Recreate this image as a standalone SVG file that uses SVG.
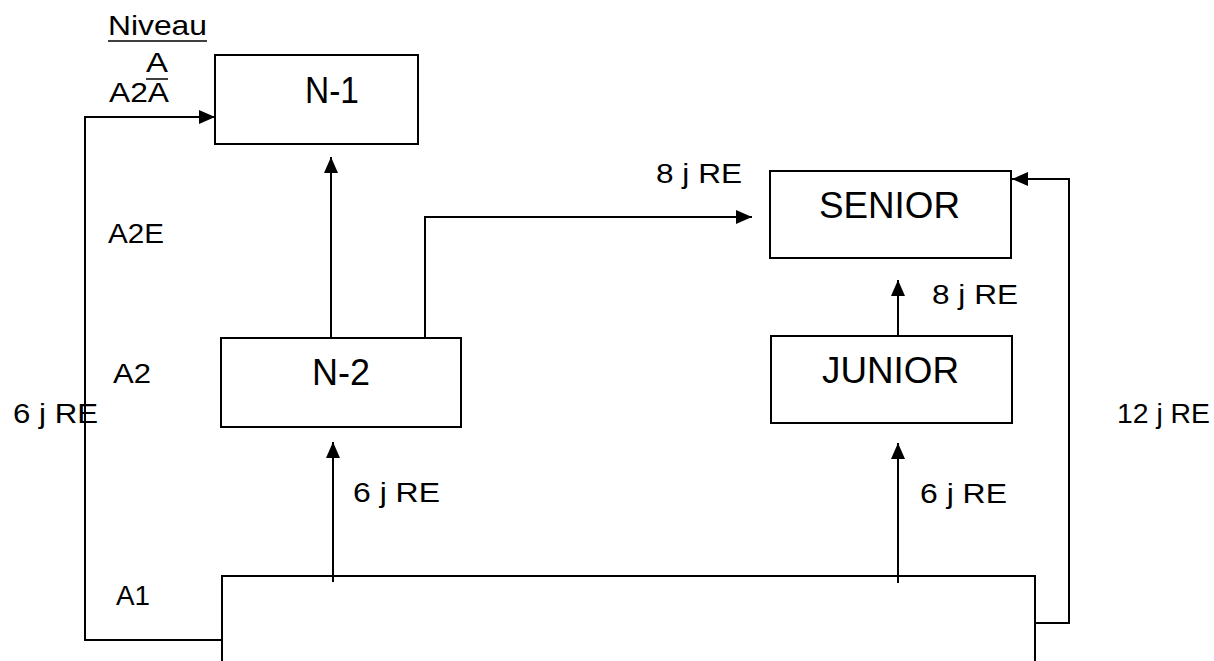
<svg xmlns="http://www.w3.org/2000/svg" width="1214" height="661" viewBox="0 0 1214 661">
<style>
.box{fill:none;stroke:#000;stroke-width:2}
.con{fill:none;stroke:#000;stroke-width:2}
.nt{font-family:"Liberation Sans",Arial,sans-serif;font-size:37px;fill:#000}
.lb{font-family:"Liberation Sans",Arial,sans-serif;font-size:28px;fill:#000}
</style>
<defs>
<marker id="ah" viewBox="0 0 16 14" refX="16" refY="7" markerWidth="16" markerHeight="14" markerUnits="userSpaceOnUse" orient="auto">
<path d="M0,0 L16,7 L0,14 z" fill="#000"/>
</marker>
</defs>
<rect width="1214" height="661" fill="#fff"/>
<g id="labels">
<text class="lb" x="108" y="35" textLength="99" lengthAdjust="spacingAndGlyphs">Niveau</text>
<line x1="108" y1="41" x2="207" y2="41" stroke="#000" stroke-width="1.5"/>
<text class="lb" x="146" y="72" textLength="22" lengthAdjust="spacingAndGlyphs" font-size="26">A</text>
<text class="lb" x="109" y="102" textLength="60" lengthAdjust="spacingAndGlyphs">A2A</text>
<line x1="146" y1="79" x2="168" y2="79" stroke="#000" stroke-width="1.5"/>
<text class="lb" x="108" y="243" textLength="56" lengthAdjust="spacingAndGlyphs">A2E</text>
<text class="lb" x="113" y="383" textLength="38" lengthAdjust="spacingAndGlyphs">A2</text>
<text class="lb" x="13" y="423" textLength="85" lengthAdjust="spacingAndGlyphs">6 j RE</text>
<text class="lb" x="116" y="605" textLength="34" lengthAdjust="spacingAndGlyphs">A1</text>
<text class="lb" x="1117" y="423" textLength="93" lengthAdjust="spacingAndGlyphs">12 j RE</text>
<text class="lb" x="656" y="183" textLength="86" lengthAdjust="spacingAndGlyphs">8 j RE</text>
<text class="lb" x="932" y="304" textLength="86" lengthAdjust="spacingAndGlyphs">8 j RE</text>
<text class="lb" x="353" y="502" textLength="87" lengthAdjust="spacingAndGlyphs">6 j RE</text>
<text class="lb" x="920" y="503" textLength="87" lengthAdjust="spacingAndGlyphs">6 j RE</text>
</g>
<g id="n1">
<rect class="box" x="215" y="55" width="203" height="89"/>
<text class="nt" x="305" y="103" textLength="54" lengthAdjust="spacingAndGlyphs">N-1</text>
</g>
<g id="n2">
<rect class="box" x="221" y="338" width="240" height="89"/>
<text class="nt" x="312" y="385" textLength="58" lengthAdjust="spacingAndGlyphs">N-2</text>
</g>
<g id="senior">
<rect class="box" x="770" y="171" width="241" height="87"/>
<text class="nt" x="819" y="218" textLength="141" lengthAdjust="spacingAndGlyphs">SENIOR</text>
</g>
<g id="junior">
<rect class="box" x="771" y="336" width="241" height="87"/>
<text class="nt" x="822" y="383" textLength="137" lengthAdjust="spacingAndGlyphs">JUNIOR</text>
</g>
<g id="base">
<rect class="box" x="222" y="576" width="813" height="100"/>
</g>
<g id="connectors">
<path class="con" d="M222,640 H85 V117 H215" marker-end="url(#ah)"/>
<path class="con" d="M331,338 V157" marker-end="url(#ah)"/>
<path class="con" d="M425,338 V217 H752" marker-end="url(#ah)"/>
<path class="con" d="M333,582 V442" marker-end="url(#ah)"/>
<path class="con" d="M898,336 V280" marker-end="url(#ah)"/>
<path class="con" d="M898,583 V443" marker-end="url(#ah)"/>
<path class="con" d="M1035,623 H1069 V179 H1012" marker-end="url(#ah)"/>
</g>
</svg>
